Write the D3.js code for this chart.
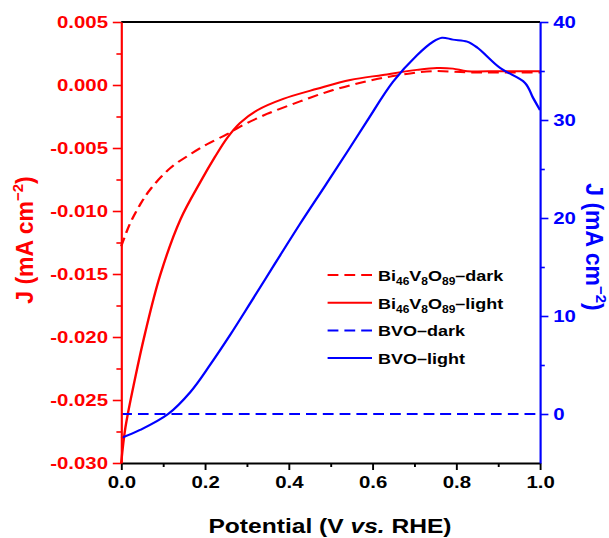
<!DOCTYPE html>
<html>
<head>
<meta charset="utf-8">
<script src="https://cdn.jsdelivr.net/npm/d3@7/dist/d3.min.js"></script>
<style>
    body { margin: 0; background: #fff; }
    text { font-family: "Liberation Sans", Arial, sans-serif; font-weight: bold; }
</style>
</head>
<body>
<div id="chart-area"></div>
<script>
// ---- DATA (potential in V vs RHE, current density in mA cm-2)
var biDarkV = [0, 0.021, 0.045, 0.069, 0.117, 0.165, 0.205, 0.253, 0.284, 0.348, 0.427, 0.506, 0.587, 0.666, 0.745, 0.826, 0.905, 1.0];
var biDarkJ = [-0.0128, -0.0110, -0.0095, -0.0083, -0.0066, -0.0055, -0.0047, -0.0039, -0.0033, -0.0023, -0.0013, -0.0004, 0.0003, 0.0008, 0.0011, 0.0010, 0.0010, 0.0010];

var biLightV = [0, 0.01, 0.033, 0.057, 0.093, 0.141, 0.189, 0.224, 0.253, 0.284, 0.325, 0.387, 0.468, 0.547, 0.625, 0.706, 0.754, 0.792, 0.826, 0.905, 1.0];
var biLightJ = [-0.0300, -0.0272, -0.0233, -0.0197, -0.0151, -0.0107, -0.0077, -0.0057, -0.0042, -0.0030, -0.0020, -0.0011, -0.0003, 0.0004, 0.0008, 0.0012, 0.00135, 0.0013, 0.0011, 0.0011, 0.0011];

var bvoDarkV = [0, 0.25, 0.5, 0.75, 1.0];
var bvoDarkJ = [0, 0, 0, 0, 0];

var bvoLightV = [0, 0.045, 0.112, 0.165, 0.212, 0.260, 0.308, 0.368, 0.427, 0.487, 0.542, 0.587, 0.649, 0.706, 0.745, 0.766, 0.792, 0.826, 0.850, 0.905, 0.964, 0.983, 1.0];
var bvoLightJ = [-2.45, -1.63, 0, 2.24, 5.0, 8.06, 11.3, 15.4, 19.4, 23.3, 26.9, 29.9, 33.9, 36.6, 38.0, 38.4, 38.2, 38.0, 37.4, 35.3, 33.8, 32.3, 31.0];

// ticks
var xTicks = [0, 0.2, 0.4, 0.6, 0.8, 1.0];
var xMinor = [0.1, 0.3, 0.5, 0.7, 0.9];
var leftTicks = [0.005, 0, -0.005, -0.010, -0.015, -0.020, -0.025, -0.030];
var leftMinor = [0.0025, -0.0025, -0.0075, -0.0125, -0.0175, -0.0225, -0.0275];
var rightTicks = [0, 10, 20, 30, 40];
var rightMinor = [5, 15, 25, 35];

var legendNames = [
    ["Bi", "46", "V", "8", "O", "89", "\u2013dark"],
    ["Bi", "46", "V", "8", "O", "89", "\u2013light"],
    ["BVO\u2013dark"],
    ["BVO\u2013light"]
];

// ---- LAYOUT (picture is drawn a bit wider than tall, so stretch x)
var sx = 1.2;
var W = 609 / sx, H = 538;
var plotLeft = 101, plotRight = 450, plotTop = 22, plotBottom = 463;
var red = "#ff0000", blue = "#0000ff";

var svg = d3.select("#chart-area")
    .append("svg")
    .attr("width", 609)
    .attr("height", 538)
    .attr("viewBox", "0 0 " + W + " " + H)
    .attr("preserveAspectRatio", "none");

// SCALES
var x = d3.scaleLinear().domain([0, 1]).range([plotLeft, plotRight]);
var yL = d3.scaleLinear().domain([-0.030, 0.005]).range([plotBottom, plotTop]);
var yR = d3.scaleLinear().domain([-5, 40]).range([plotBottom, plotTop]);

// ---- CURVES
var lineL = d3.line().x((d) => x(d[0])).y((d) => yL(d[1])).curve(d3.curveCatmullRom.alpha(0.5));
var lineR = d3.line().x((d) => x(d[0])).y((d) => yR(d[1])).curve(d3.curveCatmullRom.alpha(0.5));

var series = [
    { data: d3.zip(biDarkV, biDarkJ), line: lineL, color: red, dash: "9,5" },
    { data: d3.zip(biLightV, biLightJ), line: lineL, color: red, dash: null },
    { data: d3.zip(bvoDarkV, bvoDarkJ), line: lineR, color: blue, dash: "9,5" },
    { data: d3.zip(bvoLightV, bvoLightJ), line: lineR, color: blue, dash: null }
];

svg.selectAll("path.curve").data(series)
    .enter()
    .append("path")
    .attr("class", "curve")
    .attr("d", (d) => d.line(d.data))
    .attr("fill", "none")
    .attr("stroke", (d) => d.color)
    .attr("stroke-width", 2)
    .attr("stroke-dasharray", (d) => d.dash);

// ---- AXES
function styleAxis(g, color, size) {
    g.select(".domain").attr("stroke", color).attr("stroke-width", 1.8);
    g.selectAll(".tick line").attr("stroke", color).attr("stroke-width", 1.6);
    g.selectAll(".tick text").attr("fill", color).attr("font-size", size);
}

// top border
svg.append("line")
    .attr("x1", plotLeft).attr("x2", plotRight)
    .attr("y1", plotTop).attr("y2", plotTop)
    .attr("stroke", "black").attr("stroke-width", 1.8);

// bottom
var xAxisGroup = svg.append("g")
    .attr("transform", "translate(0," + plotBottom + ")")
    .call(d3.axisBottom(x).tickValues(xTicks).tickSize(7).tickSizeOuter(0).tickPadding(6)
        .tickFormat(d3.format(".1f")));
styleAxis(xAxisGroup, "black", 17);
var xMinorGroup = svg.append("g")
    .attr("transform", "translate(0," + plotBottom + ")")
    .call(d3.axisBottom(x).tickValues(xMinor).tickSize(4).tickFormat(""));
xMinorGroup.select(".domain").remove();
styleAxis(xMinorGroup, "black", 17);

// left
var yAxisGroup = svg.append("g")
    .attr("transform", "translate(" + plotLeft + ",0)")
    .call(d3.axisLeft(yL).tickValues(leftTicks).tickSize(7).tickSizeOuter(0).tickPadding(4)
        .tickFormat((d) => d.toFixed(3)));
styleAxis(yAxisGroup, red, 17);
var yMinorGroup = svg.append("g")
    .attr("transform", "translate(" + plotLeft + ",0)")
    .call(d3.axisLeft(yL).tickValues(leftMinor).tickSize(4).tickFormat(""));
yMinorGroup.select(".domain").remove();
styleAxis(yMinorGroup, red, 17);

// right
var rAxisGroup = svg.append("g")
    .attr("transform", "translate(" + plotRight + ",0)")
    .call(d3.axisRight(yR).tickValues(rightTicks).tickSize(7).tickSizeOuter(0).tickPadding(4));
styleAxis(rAxisGroup, blue, 17);
var rMinorGroup = svg.append("g")
    .attr("transform", "translate(" + plotRight + ",0)")
    .call(d3.axisRight(yR).tickValues(rightMinor).tickSize(4).tickFormat(""));
rMinorGroup.select(".domain").remove();
styleAxis(rMinorGroup, blue, 17);

// ---- TITLES
var xLabel = svg.append("text")
    .attr("x", 275)
    .attr("y", 533)
    .attr("font-size", 20.5)
    .attr("text-anchor", "middle")
    .attr("fill", "black");
xLabel.append("tspan").text("Potential (V ");
xLabel.append("tspan").attr("font-style", "italic").text("vs.");
xLabel.append("tspan").text(" RHE)");

function jLabel(transform, color) {
    var t = svg.append("text")
        .attr("transform", transform)
        .attr("font-size", 23)
        .attr("text-anchor", "middle")
        .attr("fill", color);
    t.append("tspan").text("J (mA cm");
    t.append("tspan").attr("font-size", 15).attr("dy", -10).text("\u22122");
    t.append("tspan").attr("dy", 10).text(")");
}
jLabel("translate(27.5,240) scale(" + (1 / sx) + ",1) rotate(-90)", red);
jLabel("translate(488,247) scale(" + (1 / sx) + ",1) rotate(90)", blue);

// ---- LEGEND
var legend = svg.append("g");
var rows = legend.selectAll("g").data(series)
    .enter()
    .append("g")
    .attr("transform", (d, i) => "translate(0," + (275 + i * 27.7) + ")");

rows.append("line")
    .attr("x1", 273).attr("x2", 310)
    .attr("stroke", (d) => d.color)
    .attr("stroke-width", 2)
    .attr("stroke-dasharray", (d) => d.dash);

rows.append("text")
    .attr("x", 315)
    .attr("y", 6)
    .attr("font-size", 15)
    .attr("fill", "black")
    .each(function (d, i) {
        var t = d3.select(this);
        legendNames[i].forEach((part, k) => {
            var sub = legendNames[i].length > 1 && k % 2 === 1 && k < 6;
            t.append("tspan")
                .attr("font-size", sub ? 10 : 15)
                .attr("dy", sub ? 4 : (k > 0 ? -4 : 0))
                .text(part);
        });
    });
</script>
</body>
</html>
